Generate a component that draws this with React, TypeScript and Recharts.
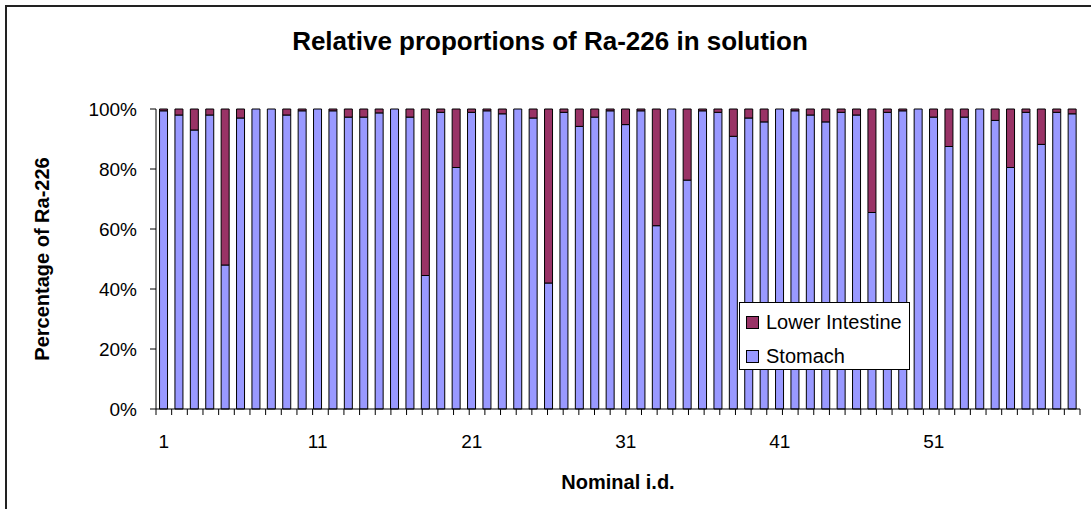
import React from 'react';
import { BarChart, Bar, XAxis, YAxis, Legend } from 'recharts';

const categories = [
  1, 2, 3, 4, 5, 6, 7, 8, 9, 10,
  11, 12, 13, 14, 15, 16, 17, 18, 19, 20,
  21, 22, 23, 24, 25, 26, 27, 28, 29, 30,
  31, 32, 33, 34, 35, 36, 37, 38, 39, 40,
  41, 42, 43, 44, 45, 46, 47, 48, 49, 50,
  51, 52, 53, 54, 55, 56, 57, 58, 59, 60,
];

const stomach = [
  99.4, 98, 93, 98, 48, 97, 100, 100, 98, 99.4,
  100, 99.4, 97.3, 97.3, 98.7, 100, 97.3, 44.5, 98.9, 80.5,
  98.9, 99.4, 98.4, 100, 97, 42, 98.9, 94.2, 97.3, 99.4,
  94.8, 99.4, 61.1, 100, 76.3, 99.4, 98.9, 90.9, 97, 95.7,
  100, 99.4, 98, 95.7, 98.9, 98, 65.5, 98.9, 99.4, 100,
  97.3, 87.5, 97.3, 100, 96.2, 80.5, 98.9, 88.2, 98.9, 98.4,
];

const lowerIntestine = [
  0.6, 2, 7, 2, 52, 3, 0, 0, 2, 0.6,
  0, 0.6, 2.7, 2.7, 1.3, 0, 2.7, 55.5, 1.1, 19.5,
  1.1, 0.6, 1.6, 0, 3, 58, 1.1, 5.8, 2.7, 0.6,
  5.2, 0.6, 38.9, 0, 23.7, 0.6, 1.1, 9.1, 3, 4.3,
  0, 0.6, 2, 4.3, 1.1, 2, 34.5, 1.1, 0.6, 0,
  2.7, 12.5, 2.7, 0, 3.8, 19.5, 1.1, 11.8, 1.1, 1.6,
];

const yTicks = [0, 20, 40, 60, 80, 100];

const data = categories.map((id, i) => ({
  id,
  stomach: stomach[i],
  lower: lowerIntestine[i],
}));

const boundaryTicks = [...categories.map((_, i) => i), categories.length];

const FONT = '"Liberation Sans", Arial, sans-serif';
const STOMACH = '#9999FF';
const LOWER = '#993366';

const LegendBox = () => (
  <div
    style={{
      position: 'relative',
      width: 171,
      height: 68,
      border: '1px solid #000',
      background: '#fff',
      boxSizing: 'border-box',
      fontFamily: FONT,
      fontSize: 20,
      color: '#000',
    }}
  >
    {[
      { name: 'Lower Intestine', color: LOWER, top: 8 },
      { name: 'Stomach', color: STOMACH, top: 42 },
    ].map((it) => (
      <div key={it.name} style={{ position: 'absolute', left: 6, top: it.top, height: 22, display: 'flex', alignItems: 'center', whiteSpace: 'nowrap' }}>
        <span style={{ display: 'inline-block', width: 11, height: 11, background: it.color, border: '1px solid #000', marginRight: 7 }} />
        <span>{it.name}</span>
      </div>
    ))}
  </div>
);

export default function App() {
  return (
    <div style={{ position: 'absolute', left: 0, top: 0, width: 1091, height: 509, overflow: 'hidden', background: '#fff' }}>
      <div style={{ position: 'absolute', left: 5, top: 5, width: 1200, height: 600, border: '2px solid #222' }} />
      <div
        style={{
          position: 'absolute',
          left: 0,
          top: 28,
          width: 1100,
          textAlign: 'center',
          fontFamily: FONT,
          fontWeight: 'bold',
          fontSize: 26,
          lineHeight: '26px',
          color: '#000',
        }}
      >
        Relative proportions of Ra-226 in solution
      </div>
      <div style={{ position: 'absolute', left: 0, top: 0 }}>
        <BarChart
          width={1091}
          height={509}
          data={data}
          margin={{ top: 109, right: 11, bottom: 0, left: 0 }}
          barCategoryGap="23%"
        >
          <XAxis
            xAxisId="b"
            dataKey="id"
            interval={9}
            tickLine={false}
            axisLine={false}
            tickSize={0}
            tickMargin={16}
            height={90}
            tick={{ fill: '#000', fontSize: 19, fontFamily: FONT }}
            label={{
              value: 'Nominal i.d.',
              position: 'insideBottom',
              offset: 20,
              style: { fill: '#000', fontSize: 20, fontWeight: 'bold', fontFamily: FONT },
            }}
          />
          <XAxis
            xAxisId="a"
            type="number"
            domain={[0, categories.length]}
            ticks={boundaryTicks}
            interval={0}
            allowDataOverflow
            tickFormatter={() => ''}
            tickSize={6}
            height={10}
            axisLine={{ stroke: '#000', strokeWidth: 1 }}
            tickLine={{ stroke: '#000', strokeWidth: 1 }}
          />
          <XAxis
            xAxisId="top"
            orientation="top"
            type="number"
            domain={[0, categories.length]}
            allowDataOverflow
            tick={false}
            tickLine={false}
            height={0}
            axisLine={{ stroke: '#a0a0a0', strokeWidth: 1 }}
          />
          <YAxis
            yAxisId="left"
            domain={[0, 100]}
            ticks={yTicks}
            tickFormatter={(v) => `${v}%`}
            width={156}
            tickSize={6}
            tickMargin={13}
            axisLine={{ stroke: '#000', strokeWidth: 1 }}
            tickLine={{ stroke: '#000', strokeWidth: 1 }}
            tick={{ fill: '#000', fontSize: 19, fontFamily: FONT }}
            label={{
              value: 'Percentage of Ra-226',
              angle: -90,
              position: 'insideLeft',
              offset: 42,
              style: { textAnchor: 'middle', fill: '#000', fontSize: 20, fontWeight: 'bold', fontFamily: FONT },
            }}
          />
          <YAxis
            yAxisId="right"
            orientation="right"
            domain={[0, 100]}
            allowDataOverflow
            tick={false}
            tickLine={false}
            width={0}
            axisLine={{ stroke: '#a0a0a0', strokeWidth: 1 }}
          />
          <Legend
            layout="vertical"
            align="center"
            verticalAlign="middle"
            wrapperStyle={{ left: 739, top: 302, width: 171, height: 68 }}
            content={<LegendBox />}
          />
          <Bar
            dataKey="stomach"
            name="Stomach"
            stackId="a"
            xAxisId="b"
            yAxisId="left"
            fill={STOMACH}
            stroke="#000"
            strokeWidth={1}
            isAnimationActive={false}
          />
          <Bar
            dataKey="lower"
            name="Lower Intestine"
            stackId="a"
            xAxisId="b"
            yAxisId="left"
            fill={LOWER}
            stroke="#000"
            strokeWidth={1}
            isAnimationActive={false}
          />
        </BarChart>
      </div>
    </div>
  );
}
